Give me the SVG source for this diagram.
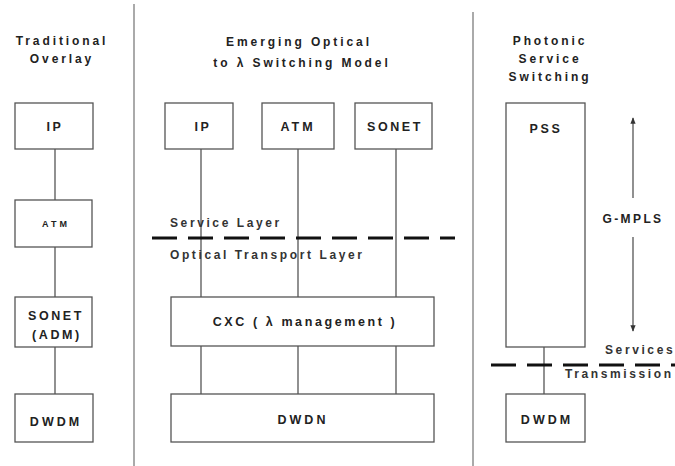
<svg xmlns="http://www.w3.org/2000/svg" width="675" height="466" viewBox="0 0 675 466">
<defs>
<style>
.box{fill:#fff;stroke:#555;stroke-width:1.3}
.ln{stroke:#555;stroke-width:1.3;fill:none}
.div{stroke:#aaa;stroke-width:2}
.dash{stroke:#111;stroke-width:3;stroke-dasharray:25 11}
text{font-family:"Liberation Sans",Arial,sans-serif;font-weight:bold;fill:#222;text-anchor:middle}
.t{font-size:12px;letter-spacing:2.9px}
.l{font-size:12.5px;letter-spacing:2.6px}
.a{font-size:12.5px;letter-spacing:3px}
.s{font-size:9px;letter-spacing:3px}
.st{font-size:12px;letter-spacing:2.6px;text-anchor:start;fill:#333}
.g{font-size:12px;letter-spacing:2.4px}
</style>
<marker id="ah" viewBox="0 0 10 10" refX="9" refY="5" markerWidth="5" markerHeight="5" orient="auto-start-reverse">
<path d="M0,1 L10,5 L0,9 z" fill="#333"/>
</marker>
</defs>
<rect width="675" height="466" fill="#fff"/>
<g id="dividers">
<line class="div" x1="134" y1="4" x2="134" y2="466"/>
<line class="div" x1="473" y1="12" x2="473" y2="466"/>
</g>
<g id="titles">
<text class="t" x="62" y="45">Traditional</text>
<text class="t" x="62" y="63">Overlay</text>
<text class="t" x="299" y="46">Emerging Optical</text>
<text class="t" x="302" y="67">to λ Switching Model</text>
<text class="t" x="550" y="45">Photonic</text>
<text class="t" x="550" y="63">Service</text>
<text class="t" x="550" y="81">Switching</text>
</g>
<g id="connectors">
<line class="ln" x1="55" y1="149" x2="55" y2="200"/>
<line class="ln" x1="55" y1="247" x2="55" y2="297"/>
<line class="ln" x1="55" y1="347" x2="55" y2="394"/>
<line class="ln" x1="201" y1="149" x2="201" y2="297"/>
<line class="ln" x1="298" y1="149" x2="298" y2="297"/>
<line class="ln" x1="396" y1="149" x2="396" y2="297"/>
<line class="ln" x1="201" y1="346" x2="201" y2="394"/>
<line class="ln" x1="298" y1="346" x2="298" y2="394"/>
<line class="ln" x1="396" y1="346" x2="396" y2="394"/>
<line class="ln" x1="544" y1="347" x2="544" y2="394"/>
<line class="ln" x1="633" y1="198" x2="633" y2="118" marker-end="url(#ah)"/>
<line class="ln" x1="633" y1="237" x2="633" y2="331" marker-end="url(#ah)"/>
</g>
<g id="layers">
<line class="dash" x1="152" y1="238" x2="455" y2="238"/>
<text class="st" x="170" y="227">Service Layer</text>
<text class="st" x="170" y="259">Optical Transport Layer</text>
<line class="dash" x1="491" y1="365" x2="675" y2="365"/>
<text class="st" x="605" y="354">Services</text>
<text class="st" x="565" y="378">Transmission</text>
<text class="g" x="633" y="223">G-MPLS</text>
</g>
<g id="left-ip"><rect class="box" x="15" y="103" width="78" height="46"/><text class="l" x="55" y="131">IP</text></g>
<g id="left-atm"><rect class="box" x="15" y="200" width="77" height="47"/><text class="s" x="56" y="227">ATM</text></g>
<g id="left-sonet"><rect class="box" x="15" y="297" width="77" height="50"/><text class="l" x="56" y="320">SONET</text><text class="l" x="57" y="339">(ADM)</text></g>
<g id="left-dwdm"><rect class="box" x="15" y="394" width="78" height="48"/><text class="a" x="56" y="426">DWDM</text></g>
<g id="mid-ip"><rect class="box" x="165" y="103" width="68" height="46"/><text class="l" x="203" y="131">IP</text></g>
<g id="mid-atm"><rect class="box" x="262" y="103" width="72" height="46"/><text class="a" x="298" y="131">ATM</text></g>
<g id="mid-sonet"><rect class="box" x="355" y="103" width="77" height="46"/><text class="l" x="395" y="131">SONET</text></g>
<g id="mid-cxc"><rect class="box" x="171" y="297" width="263" height="49"/><text class="l" x="305" y="326">CXC ( λ management )</text></g>
<g id="mid-dwdm"><rect class="box" x="171" y="394" width="263" height="48"/><text class="a" x="303" y="424">DWDN</text></g>
<g id="right-pss"><rect class="box" x="506" y="103" width="79" height="244"/><text class="l" x="546" y="133">PSS</text></g>
<g id="right-dwdm"><rect class="box" x="506" y="394" width="79" height="48"/><text class="a" x="547" y="424">DWDM</text></g>
</svg>
